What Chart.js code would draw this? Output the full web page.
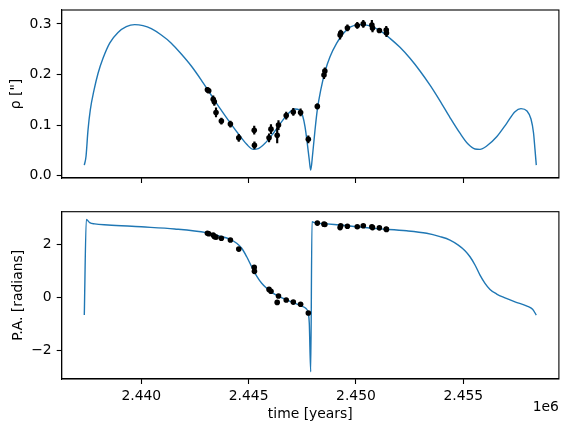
<!DOCTYPE html>
<html>
<head>
<meta charset="utf-8">
<script src="https://cdn.jsdelivr.net/npm/chart.js@4.4.1/dist/chart.umd.min.js"></script>
<style>
  html, body { margin: 0; padding: 0; background: #fff; }
  #wrap { position: relative; width: 567px; height: 433px; }
  canvas { position: absolute; left: 0; }
  #rho-chart { top: 0; }
  #pa-chart { top: 200px; }
</style>
</head>
<body>
<div id="wrap">
  <canvas id="rho-chart" width="567" height="200"></canvas>
  <canvas id="pa-chart" width="567" height="233"></canvas>
</div>
<script>
// observations (JD)
const obsTime = [2443080, 2443140, 2443350, 2443400, 2443480, 2443730, 2444150, 2444540,
  2445260, 2445270, 2445950, 2446040, 2446330, 2446390, 2446750, 2447080, 2447420, 2447780,
  2448200, 2448510, 2448550, 2449260, 2449290, 2449600, 2450060, 2450340, 2450740, 2450770,
  2451090, 2451410, 2451420];
const obsRho = [0.170, 0.168, 0.151, 0.146, 0.125, 0.108, 0.102, 0.075,
  0.090, 0.060, 0.075, 0.092, 0.080, 0.100, 0.119, 0.126, 0.125, 0.072,
  0.137, 0.199, 0.207, 0.278, 0.282, 0.292, 0.297, 0.300, 0.298, 0.292,
  0.287, 0.288, 0.282];
const obsRhoErr = [0.004, 0.004, 0.007, 0.007, 0.009, 0.006, 0.006, 0.007,
  0.008, 0.007, 0.008, 0.009, 0.015, 0.009, 0.007, 0.007, 0.007, 0.007,
  0.005, 0.007, 0.006, 0.008, 0.006, 0.006, 0.006, 0.007, 0.009, 0.008,
  0.003, 0.007, 0.007];
const obsPA = [2.42, 2.40, 2.35, 2.29, 2.27, 2.23, 2.16, 1.82,
  1.13, 0.98, 0.30, 0.23, -0.19, 0.05, -0.10, -0.18, -0.26, -0.59,
  2.80, 2.76, 2.75, 2.63, 2.70, 2.68, 2.66, 2.70, 2.66, 2.63,
  2.62, 2.58, 2.56];

// model orbit
const modelRhoTime = [2437345, 2437424, 2437517, 2437624, 2437797, 2437983, 2438216, 2438528,
  2438915, 2439301, 2439693, 2440079, 2440466, 2440932, 2441397, 2441863, 2442329, 2442795,
  2443200, 2443666, 2444132, 2444597, 2444910, 2445217, 2445450, 2445762, 2446149, 2446540,
  2446847, 2447159, 2447360, 2447518, 2447625, 2447732, 2447825, 2447891, 2447984, 2448091,
  2448198, 2448357, 2448557, 2448790, 2449102, 2449409, 2449721, 2450187, 2450653, 2451119,
  2451584, 2452050, 2452516, 2452982, 2453448, 2453913, 2454379, 2454845, 2455232, 2455544,
  2455777, 2456089, 2456555, 2457020, 2457407, 2457686, 2457966, 2458152, 2458269, 2458338,
  2458399];
const modelRho = [0.021, 0.038, 0.090, 0.130, 0.169, 0.202, 0.232, 0.262,
  0.283, 0.2945, 0.2985, 0.2965, 0.2905, 0.278, 0.262, 0.2405, 0.2168, 0.189,
  0.163, 0.133, 0.105, 0.0785, 0.062, 0.052, 0.0534, 0.064, 0.084, 0.107,
  0.123, 0.132, 0.130, 0.118, 0.097, 0.064, 0.031, 0.011, 0.044, 0.090,
  0.130, 0.169, 0.2055, 0.235, 0.262, 0.281, 0.2935, 0.2985, 0.296, 0.2866,
  0.2715, 0.2537, 0.232, 0.207, 0.179, 0.148, 0.115, 0.084, 0.062, 0.0528,
  0.052, 0.0587, 0.077, 0.1036, 0.1265, 0.1325, 0.128, 0.112, 0.085, 0.052,
  0.021];
const modelPATime = [2437345, 2437438, 2437596, 2437829, 2438449, 2440000, 2441556, 2443028,
  2443666, 2444132, 2444444, 2444677, 2444910, 2445142, 2445375, 2445608, 2445841, 2446149,
  2446614, 2447080, 2447472, 2447672, 2447779, 2447825, 2447891, 2447951, 2448091, 2448636,
  2449721, 2450807, 2452362, 2453294, 2453913, 2454379, 2454766, 2455078, 2455311, 2455544,
  2455777, 2456010, 2456243, 2456555, 2456941, 2457407, 2457966, 2458227, 2458399];
const modelPA = [-0.67, 2.94, 2.82, 2.77, 2.73, 2.66, 2.58, 2.44,
  2.31, 2.19, 2.04, 1.85, 1.53, 1.155, 0.80, 0.53, 0.34, 0.15,
  -0.04, -0.20, -0.33, -0.42, -0.60, -0.98, -2.81, 2.85, 2.81, 2.77,
  2.69, 2.60, 2.51, 2.415, 2.29, 2.16, 1.97, 1.76, 1.53, 1.22,
  0.84, 0.53, 0.30, 0.125, -0.02, -0.17, -0.33, -0.45, -0.67];

const timeTicks = [2440000, 2445000, 2450000, 2455000];
const rhoTicks = [0.0, 0.1, 0.2, 0.3];
const paTicks = [-2, 0, 2];

Chart.defaults.font.family = 'DejaVu Sans';
Chart.defaults.font.size = 13.9;
Chart.defaults.color = '#000';

const X_MIN = 2436292, X_MAX = 2459452;
const blue = '#1f77b4';

const framePlugin = {
  id: 'frame',
  afterDraw(chart) {
    const {ctx, chartArea: a} = chart;
    ctx.save();
    ctx.strokeStyle = '#000';
    ctx.lineWidth = 1.1;
    ctx.strokeRect(a.left, a.top, a.right - a.left, a.bottom - a.top);
    ctx.restore();
  }
};

const offsetPlugin = {
  id: 'offsetText',
  afterDraw(chart) {
    const {ctx, chartArea: a} = chart;
    ctx.save();
    ctx.font = '13.9px "DejaVu Sans"';
    ctx.fillStyle = '#000';
    ctx.textAlign = 'right';
    ctx.textBaseline = 'middle';
    ctx.fillText('1e6', a.right, 207);
    ctx.restore();
  }
};

const fmtMinus = (v) => String(v).replace('-', '\u2212');

function xScale(showLabels, xHeight) {
  return {
    type: 'linear',
    min: X_MIN,
    max: X_MAX,
    offset: false,
    afterBuildTicks: (s) => { s.ticks = timeTicks.map(v => ({value: v})); },
    afterFit: (s) => { s.height = xHeight; s.paddingLeft = 0; s.paddingRight = 0; },
    grid: {drawOnChartArea: false, drawTicks: true, tickLength: 5, tickWidth: 1.1, tickColor: '#000', offset: false},
    border: {display: true, color: '#000', width: 1.1},
    ticks: {
      display: showLabels,
      autoSkip: false,
      maxRotation: 0,
      padding: 4,
      callback: (v) => (v / 1e6).toFixed(3)
    },
    title: {
      display: showLabels,
      text: 'time [years]',
      padding: {top: 0, bottom: 10.5}
    }
  };
}

function yScale(min, max, ticks, fmt, label, titlePad) {
  return {
    type: 'linear',
    min: min,
    max: max,
    afterBuildTicks: (s) => { s.ticks = ticks.map(v => ({value: v})); },
    afterFit: (s) => { s.width = 61.7; s.paddingTop = 0; s.paddingBottom = 0; },
    grid: {drawOnChartArea: false, drawTicks: true, tickLength: 5, tickWidth: 1.1, tickColor: '#000'},
    border: {display: true, color: '#000', width: 1.1},
    ticks: {padding: 5, callback: fmt},
    title: {display: true, text: label, padding: {top: titlePad, bottom: 0}}
  };
}

const rhoPoints = obsTime.map((t, i) => ({x: t, y: obsRho[i]}));
const rhoBars = obsTime.map((t, i) => ({x: t, y: [obsRho[i] - obsRhoErr[i], obsRho[i] + obsRhoErr[i]]}));
const rhoModel = modelRhoTime.map((t, i) => ({x: t, y: modelRho[i]}));

new Chart(document.getElementById('rho-chart'), {
  type: 'line',
  data: {
    datasets: [
      {
        label: 'data',
        data: rhoPoints,
        showLine: false,
        pointRadius: 2.8,
        pointBackgroundColor: '#000',
        pointBorderWidth: 0,
        order: 0
      },
      {
        type: 'bar',
        label: 'err',
        data: rhoBars,
        backgroundColor: '#000',
        barThickness: 1.5,
        grouped: false,
        order: 1
      },
      {
        label: 'model',
        data: rhoModel,
        borderColor: blue,
        borderWidth: 1.4,
        pointRadius: 0,
        cubicInterpolationMode: 'monotone',
        order: 2
      }
    ]
  },
  options: {
    responsive: false,
    animation: false,
    layout: {padding: {left: 0, right: 8.1, top: 10, bottom: 0}},
    plugins: {legend: {display: false}, tooltip: {enabled: false}},
    scales: {
      x: xScale(false, 22),
      y: yScale(-0.0045, 0.3275, rhoTicks, (v) => v.toFixed(1), 'ρ ["]', 8.3)
    }
  },
  plugins: [framePlugin]
});

const paPoints = obsTime.map((t, i) => ({x: t, y: obsPA[i]}));
const paModel = modelPATime.map((t, i) => ({x: t, y: modelPA[i]}));

new Chart(document.getElementById('pa-chart'), {
  type: 'line',
  data: {
    datasets: [
      {
        label: 'data',
        data: paPoints,
        showLine: false,
        pointRadius: 2.8,
        pointBackgroundColor: '#000',
        pointBorderWidth: 0,
        order: 0
      },
      {
        label: 'model',
        data: paModel,
        borderColor: blue,
        borderWidth: 1.4,
        pointRadius: 0,
        cubicInterpolationMode: 'monotone',
        order: 1
      }
    ]
  },
  options: {
    responsive: false,
    animation: false,
    layout: {padding: {left: 0, right: 8.1, top: 11.7, bottom: 0}},
    plugins: {legend: {display: false}, tooltip: {enabled: false}},
    scales: {
      x: xScale(true, 54),
      y: yScale(-3.08, 3.23, paTicks, fmtMinus, 'P.A. [radians]', 10)
    }
  },
  plugins: [framePlugin, offsetPlugin]
});
</script>
</body>
</html>
